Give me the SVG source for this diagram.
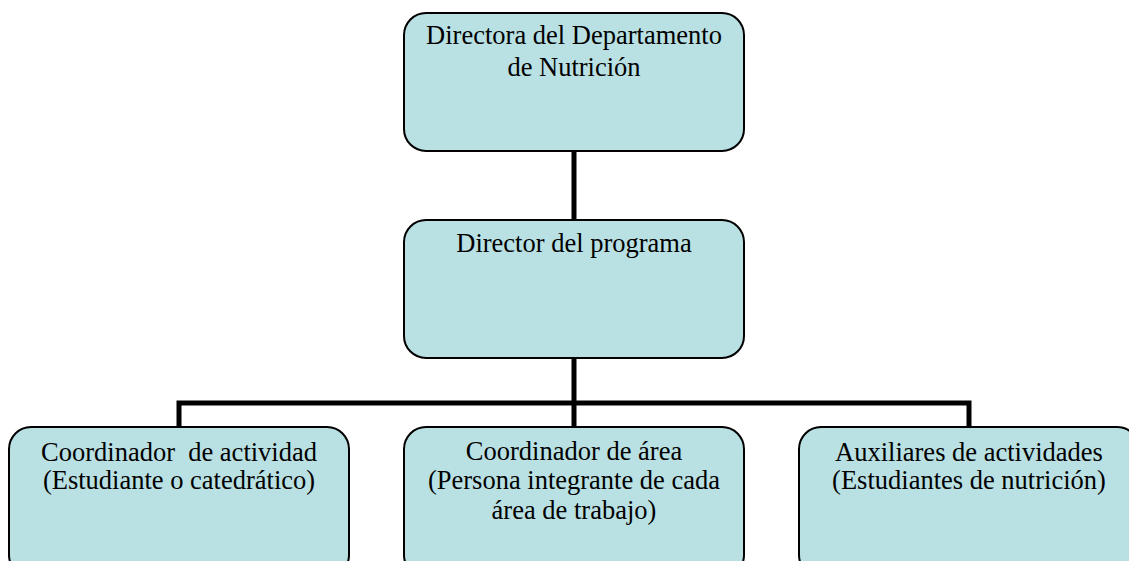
<svg xmlns="http://www.w3.org/2000/svg" width="1129" height="561" viewBox="0 0 1129 561">
<style>
.box{fill:#b9e0e3;stroke:#000;stroke-width:2}
.t{font-family:"Liberation Serif","Times New Roman",serif;font-size:26.5px;fill:#000;text-anchor:middle}
.c{stroke:#000;stroke-width:5;fill:none}
</style>
<rect width="1129" height="561" fill="#fff"/>
<g id="connectors">
<line class="c" x1="574" y1="151" x2="574" y2="220"/>
<line class="c" x1="574" y1="358" x2="574" y2="427"/>
<polyline class="c" points="179,427 179,403 969,403 969,427"/>
</g>
<g id="n1">
<rect class="box" x="404" y="13" width="340" height="138" rx="22"/>
<text class="t" x="574" y="44">Directora del Departamento</text>
<text class="t" x="574" y="76">de Nutrición</text>
</g>
<g id="n2">
<rect class="box" x="404" y="220" width="340" height="138" rx="22"/>
<text class="t" x="574" y="252">Director del programa</text>
</g>
<g id="n3">
<rect class="box" x="9" y="427" width="340" height="150" rx="22"/>
<text class="t" x="179" y="461" xml:space="preserve">Coordinador  de actividad</text>
<text class="t" x="179" y="489">(Estudiante o catedrático)</text>
</g>
<g id="n4">
<rect class="box" x="404" y="427" width="340" height="150" rx="22"/>
<text class="t" x="574" y="460">Coordinador de área</text>
<text class="t" x="574" y="489">(Persona integrante de cada</text>
<text class="t" x="574" y="519">área de trabajo)</text>
</g>
<g id="n5">
<rect class="box" x="799" y="427" width="340" height="150" rx="22"/>
<text class="t" x="969" y="461">Auxiliares de actividades</text>
<text class="t" x="969" y="489">(Estudiantes de nutrición)</text>
</g>
</svg>
